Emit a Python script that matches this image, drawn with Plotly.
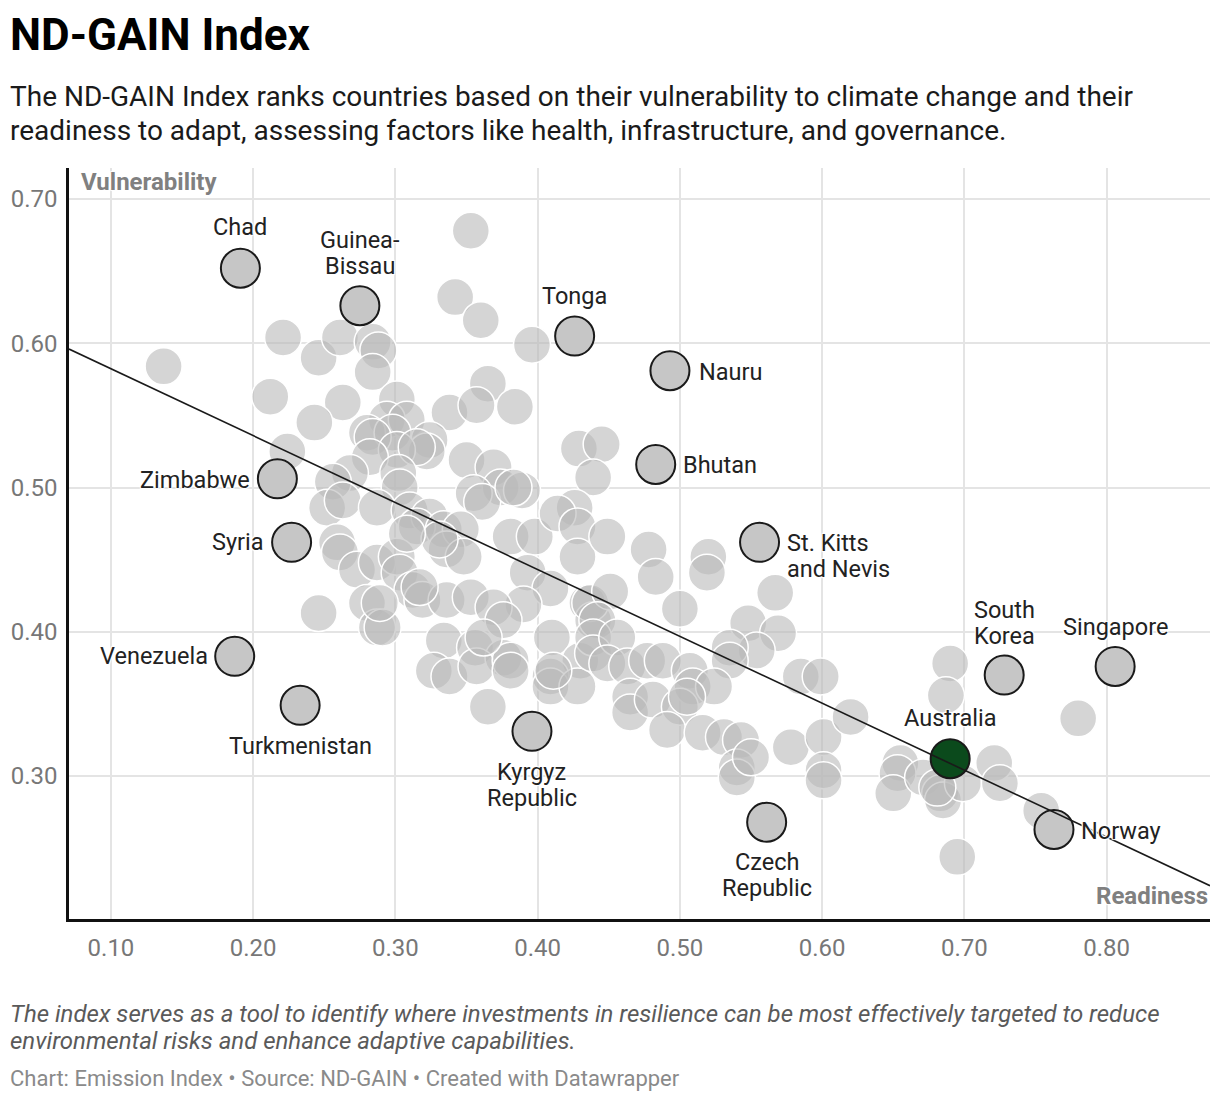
import plotly.graph_objects as go

# highlighted countries
countries = ["Chad", "Guinea-<br>Bissau", "Tonga", "Nauru", "Bhutan", "Zimbabwe", "Syria",
             "St. Kitts<br>and Nevis", "Venezuela", "Turkmenistan", "Kyrgyz<br>Republic",
             "Czech<br>Republic", "South<br>Korea", "Singapore", "Australia", "Norway"]
readiness = [0.191, 0.275, 0.426, 0.493, 0.483, 0.217, 0.227, 0.556, 0.187, 0.233, 0.396,
             0.561, 0.728, 0.806, 0.690, 0.763]
vulnerability = [0.652, 0.626, 0.605, 0.581, 0.516, 0.506, 0.462, 0.462, 0.383, 0.349, 0.331,
                 0.268, 0.370, 0.376, 0.312, 0.263]

# all other countries
other_readiness = [
    0.353, 0.342, 0.360, 0.396, 0.221, 0.246, 0.261, 0.284, 0.288, 0.284, 0.137, 0.212, 0.263,
    0.301, 0.294, 0.308, 0.338, 0.365, 0.357, 0.384, 0.243, 0.280, 0.224, 0.324, 0.298, 0.284,
    0.322, 0.350, 0.369, 0.374, 0.389, 0.355, 0.361, 0.429, 0.445, 0.439, 0.426, 0.301, 0.315,
    0.282, 0.268, 0.256, 0.252, 0.263, 0.302, 0.303, 0.287, 0.310, 0.324, 0.315, 0.334, 0.346,
    0.336, 0.348, 0.383, 0.259, 0.261, 0.273, 0.287, 0.301, 0.303, 0.312, 0.280, 0.287, 0.246,
    0.381, 0.398, 0.414, 0.428, 0.428, 0.393, 0.409, 0.390, 0.435, 0.439, 0.410, 0.430, 0.409,
    0.409, 0.428, 0.365, 0.334, 0.356, 0.376, 0.327, 0.338, 0.357, 0.381, 0.319, 0.336, 0.353,
    0.369, 0.376, 0.317, 0.331, 0.308, 0.291, 0.289, 0.362, 0.381,
    0.449, 0.478, 0.483, 0.520, 0.519, 0.500, 0.567, 0.548, 0.569, 0.554, 0.535, 0.535, 0.437,
    0.451, 0.442, 0.439, 0.439, 0.456, 0.411, 0.449, 0.463, 0.477, 0.488, 0.507, 0.509, 0.524,
    0.465, 0.465, 0.481, 0.500, 0.505, 0.491, 0.516, 0.531, 0.543, 0.540, 0.540, 0.550, 0.578,
    0.585, 0.599, 0.601, 0.601, 0.601, 0.620,
    0.690, 0.687, 0.780, 0.655, 0.653, 0.650, 0.671, 0.683, 0.685, 0.699, 0.721, 0.725, 0.754,
    0.695, 0.681,
]
other_vulnerability = [
    0.678, 0.632, 0.616, 0.599, 0.604, 0.590, 0.604, 0.601, 0.595, 0.580, 0.584, 0.563, 0.559,
    0.561, 0.547, 0.547, 0.552, 0.572, 0.557, 0.556, 0.545, 0.538, 0.525, 0.533, 0.538, 0.535,
    0.525, 0.519, 0.514, 0.500, 0.498, 0.496, 0.490, 0.527, 0.530, 0.507, 0.486, 0.526, 0.528,
    0.521, 0.510, 0.504, 0.486, 0.491, 0.510, 0.500, 0.486, 0.484, 0.480, 0.473, 0.471, 0.471,
    0.457, 0.452, 0.500, 0.462, 0.455, 0.443, 0.448, 0.452, 0.441, 0.429, 0.420, 0.403, 0.413,
    0.466, 0.466, 0.482, 0.473, 0.452, 0.441, 0.430, 0.419, 0.420, 0.408, 0.396, 0.380, 0.369,
    0.362, 0.362, 0.348, 0.394, 0.389, 0.382, 0.373, 0.369, 0.376, 0.380, 0.422, 0.422, 0.424,
    0.417, 0.408, 0.431, 0.464, 0.468, 0.403, 0.420, 0.396, 0.373,
    0.466, 0.457, 0.438, 0.452, 0.441, 0.416, 0.427, 0.406, 0.399, 0.387, 0.389, 0.380, 0.420,
    0.428, 0.408, 0.396, 0.385, 0.396, 0.373, 0.378, 0.376, 0.380, 0.380, 0.373, 0.362, 0.362,
    0.355, 0.344, 0.353, 0.348, 0.355, 0.332, 0.330, 0.327, 0.325, 0.306, 0.299, 0.313, 0.320,
    0.369, 0.369, 0.327, 0.304, 0.297, 0.341,
    0.378, 0.356, 0.340, 0.309, 0.302, 0.288, 0.299, 0.288, 0.283, 0.295, 0.309, 0.295, 0.276,
    0.244, 0.292,
]

# trend line end points
trend_x = [0.0705, 0.8727]
trend_y = [0.596, 0.224]

x_ticks = [0.1, 0.2, 0.3, 0.4, 0.5, 0.6, 0.7, 0.8]
y_ticks = [0.3, 0.4, 0.5, 0.6, 0.7]

subtitle_lines = [
    "The ND-GAIN Index ranks countries based on their vulnerability to climate change and their",
    "readiness to adapt, assessing factors like health, infrastructure, and governance.",
]
notes_lines = [
    "The index serves as a tool to identify where investments in resilience can be most effectively targeted to reduce",
    "environmental risks and enhance adaptive capabilities.",
]
footer = "Chart: Emission Index • Source: ND-GAIN • Created with Datawrapper"

W, H = 1220, 1102
L, R, T, B = 69, 10, 168, 183


def px_x(px):
    # page pixel -> paper x
    return (px - L) / (W - L - R)


def px_y(py):
    # page pixel -> paper y
    return (H - B - py) / (H - T - B)


fig = go.Figure()

fig.add_trace(go.Scatter(
    x=other_readiness, y=other_vulnerability, mode="markers",
    marker=dict(size=37, color="rgba(185,185,185,0.6)", line=dict(color="white", width=1.5)),
    hoverinfo="skip"
))

colors = ["#0b4a1c" if c == "Australia" else "#c6c6c6" for c in countries]
fig.add_trace(go.Scatter(
    x=readiness, y=vulnerability, mode="markers",
    marker=dict(size=39, color=colors, line=dict(color="#1a1a1a", width=2)),
    hoverinfo="skip"
))

fig.add_trace(go.Scatter(
    x=trend_x, y=trend_y, mode="lines",
    line=dict(color="#1a1a1a", width=1.6), hoverinfo="skip"
))

halo = "white 1px 1px 1px, white -1px -1px 1px, white 1px -1px 1px, white -1px 1px 1px"

# label placement (anchor, x shift, y shift of block centre) per country
label_pos = {
    "Chad": ("center", 0, 41),
    "Guinea-<br>Bissau": ("center", 0, 53),
    "Tonga": ("center", 0, 40),
    "Nauru": ("left", 27, -1),
    "Bhutan": ("left", 25, -1),
    "Zimbabwe": ("right", -25, -1),
    "Syria": ("right", -26, 0),
    "St. Kitts<br>and Nevis": ("left", 25, -14),
    "Venezuela": ("right", -25, 0),
    "Turkmenistan": ("center", 0, -41),
    "Kyrgyz<br>Republic": ("center", 0, -54),
    "Czech<br>Republic": ("center", 0, -53),
    "South<br>Korea": ("center", 0, 52),
    "Singapore": ("center", 0, 39),
    "Australia": ("center", 0, 41),
    "Norway": ("left", 25, -2),
}

annotations = []
for name, rx, vy in zip(countries, readiness, vulnerability):
    anchor, dx, dy = label_pos[name]
    lines = name.split("<br>")
    for i, line in enumerate(lines):
        annotations.append(dict(
            x=rx, y=vy, xref="x", yref="y", text=line, showarrow=False,
            xanchor=anchor, yanchor="middle", xshift=dx,
            yshift=dy + (len(lines) - 1) * 13 - i * 26,
            font=dict(family="Roboto", size=23.5, color="#222222", shadow=halo)
        ))

annotations.append(dict(
    text="<b>ND-GAIN Index</b>", x=px_x(8), y=px_y(35), xref="paper", yref="paper",
    xanchor="left", yanchor="middle", showarrow=False,
    font=dict(family="Roboto", size=44, color="#000000")))
for i, line in enumerate(subtitle_lines):
    annotations.append(dict(
        text=line, x=px_x(8), y=px_y(97 + 33 * i), xref="paper", yref="paper",
        xanchor="left", yanchor="middle", showarrow=False,
        font=dict(family="Roboto", size=28, color="#1a1a1a")))
for i, line in enumerate(notes_lines):
    annotations.append(dict(
        text="<i>" + line + "</i>", x=px_x(8), y=px_y(1014 + 27 * i), xref="paper", yref="paper",
        xanchor="left", yanchor="middle", showarrow=False,
        font=dict(family="Roboto", size=24, color="#5a5a5a")))
annotations += [
    dict(text=footer, x=px_x(8), y=px_y(1078), xref="paper", yref="paper",
         xanchor="left", yanchor="middle", showarrow=False,
         font=dict(family="Roboto", size=22, color="#8a8a8a")),
    dict(text="<b>Vulnerability</b>", x=px_x(79), y=px_y(182), xref="paper", yref="paper",
         xanchor="left", yanchor="middle", showarrow=False,
         font=dict(family="Roboto", size=24, color="#808080", shadow=halo)),
    dict(text="<b>Readiness</b>", x=px_x(1210), y=px_y(896), xref="paper", yref="paper",
         xanchor="right", yanchor="middle", showarrow=False,
         font=dict(family="Roboto", size=24, color="#808080", shadow=halo)),
]

fig.update_layout(
    width=W, height=H,
    margin=dict(l=L, r=R, t=T, b=B),
    plot_bgcolor="white", paper_bgcolor="white",
    showlegend=False,
    annotations=annotations,
    font=dict(family="Roboto"),
)
fig.update_xaxes(
    range=[0.0705, 0.8727], tickvals=x_ticks, ticktext=[f"{v:.2f}" for v in x_ticks],
    showgrid=True, gridcolor="#e4e4e4", gridwidth=2, zeroline=False,
    showline=True, linecolor="#111111", linewidth=2.5, ticks="",
    tickfont=dict(family="Roboto", size=24, color="#777777"), ticklabelstandoff=5,
)
fig.update_yaxes(
    range=[0.2009, 0.7215], tickvals=y_ticks, ticktext=[f"{v:.2f}" for v in y_ticks],
    showgrid=True, gridcolor="#e4e4e4", gridwidth=2, zeroline=False,
    showline=True, linecolor="#111111", linewidth=2.5, ticks="",
    tickfont=dict(family="Roboto", size=24, color="#777777"), ticklabelstandoff=4,
)

fig.write_html("out.html", config={"displayModeBar": False},
               post_script="document.body.style.margin = '0';")
